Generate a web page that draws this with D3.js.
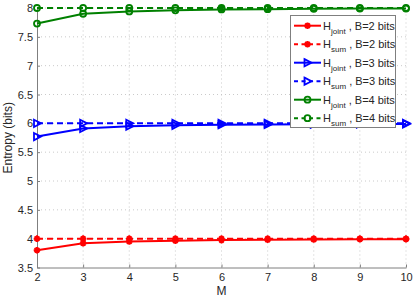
<!DOCTYPE html>
<html><head><meta charset="utf-8">
<script src="https://cdn.jsdelivr.net/npm/d3@7"></script>
<style>body{margin:0;background:#fff}svg{display:block}text{font-family:"Liberation Sans",Arial,sans-serif}</style>
</head><body><svg id="c" width="415" height="297"></svg>
<script>
const M = [2,3,4,5,6,7,8,9,10];
const jointB2 = [3.80,3.92,3.95,3.965,3.975,3.98,3.985,3.99,3.99];
const sumB2   = [4,4,4,4,4,4,4,4,4];
const jointB3 = [5.77,5.91,5.95,5.965,5.975,5.98,5.985,5.99,5.99];
const sumB3   = [6,6,6,6,6,6,6,6,6];
const jointB4 = [7.73,7.90,7.94,7.96,7.975,7.98,7.985,7.99,7.99];
const sumB4   = [8,8,8,8,8,8,8,8,8];
const xTicks = [2,3,4,5,6,7,8,9,10];
const yTicks = [3.5,4,4.5,5,5.5,6,6.5,7,7.5,8];
const labels = ["joint","sum","joint","sum","joint","sum"];
const bits = [2,2,3,3,4,4];

const series = [
  {v:jointB2,c:"#ff0000",dash:null,m:"star"},
  {v:sumB2,c:"#ff0000",dash:"6,4",m:"star"},
  {v:jointB3,c:"#0000ff",dash:null,m:"tri"},
  {v:sumB3,c:"#0000ff",dash:"6,4",m:"tri"},
  {v:jointB4,c:"#008000",dash:null,m:"circ"},
  {v:sumB4,c:"#008000",dash:"6,4",m:"circ"}
];

const svg = d3.select("#c");
const x = d3.scaleLinear().domain([2,10]).range([37,406]);
const y = d3.scaleLinear().domain([3.5,8]).range([267.5,8]);

// grid
const g = svg.append("g");
g.selectAll(".gx").data(xTicks.slice(1)).join("line")
  .attr("x1",d=>x(d)).attr("x2",d=>x(d)).attr("y1",y(3.5)).attr("y2",y(8))
  .attr("stroke","#bdbdbd").attr("stroke-width",0.8).attr("stroke-dasharray","1,3");
g.selectAll(".gy").data(yTicks.slice(1)).join("line")
  .attr("x1",x(2)).attr("x2",x(10)).attr("y1",d=>y(d)).attr("y2",d=>y(d))
  .attr("stroke","#bdbdbd").attr("stroke-width",0.8).attr("stroke-dasharray","1,3");

// axes
const xa = svg.append("g").attr("transform",`translate(0,${y(3.5)})`)
  .call(d3.axisBottom(x).tickValues(xTicks).tickFormat(d3.format("d")).tickSizeInner(-3).tickSizeOuter(0).tickPadding(6));
const ya = svg.append("g").attr("transform",`translate(${x(2)},0)`)
  .call(d3.axisLeft(y).tickValues(yTicks).tickFormat(d=>d).tickSizeInner(-3).tickSizeOuter(0).tickPadding(4));
[xa,ya].forEach(a=>{
  a.select(".domain").attr("stroke","#7f7f7f");
  a.selectAll(".tick line").attr("stroke","#7f7f7f");
  a.selectAll("text").attr("fill","#262626").style("font-size","11px").style("font-family","'Liberation Sans',Arial,sans-serif");
});

svg.append("text").attr("x",x(6)).attr("y",295).attr("text-anchor","middle")
  .attr("fill","#262626").style("font-size","12px").text("M");
svg.append("text").attr("transform",`translate(12,${y(5.75)}) rotate(-90)`).attr("text-anchor","middle")
  .attr("fill","#262626").style("font-size","12px").text("Entropy (bits)");

function marker(sel, type, c){
  if(type==="star"){
    const r=3.3;
    const p=[];
    for(let k=0;k<4;k++){const a=k*Math.PI/4;p.push(`M${-r*Math.cos(a)},${-r*Math.sin(a)}L${r*Math.cos(a)},${r*Math.sin(a)}`);}
    sel.append("path").attr("d",p.join("")).attr("stroke",c).attr("stroke-width",2).attr("fill","none");
    sel.append("circle").attr("r",1.8).attr("fill",c);
  } else if(type==="tri"){
    sel.append("path").attr("d","M-3,-3.6L4,0L-3,3.6Z").attr("stroke",c).attr("stroke-width",1.8).attr("fill","none");
  } else {
    sel.append("circle").attr("r",3).attr("stroke",c).attr("stroke-width",1.8).attr("fill","none");
  }
}

const line = d3.line().x((d,i)=>x(M[i])).y(d=>y(d));
series.forEach(s=>{
  svg.append("path").datum(s.v).attr("d",line).attr("fill","none")
    .attr("stroke",s.c).attr("stroke-width",2).attr("stroke-dasharray",s.dash);
});
series.forEach(s=>{
  s.v.forEach((v,i)=>{
    const gm = svg.append("g").attr("transform",`translate(${x(M[i])},${y(v)})`);
    marker(gm,s.m,s.c);
  });
});

// legend
const lg = svg.append("g");
lg.append("rect").attr("x",290.5).attr("y",15.5).attr("width",105).attr("height",112)
  .attr("fill","#fff").attr("stroke","#7f7f7f").attr("stroke-width",1);
series.forEach((s,i)=>{
  const yy = 25.7 + i*18.5;
  lg.append("line").attr("x1",294).attr("x2",321).attr("y1",yy).attr("y2",yy)
    .attr("stroke",s.c).attr("stroke-width",2).attr("stroke-dasharray",s.dash?"4,3.5":null);
  const gm = lg.append("g").attr("transform",`translate(307.5,${yy})`);
  marker(gm,s.m,s.c);
  const t = lg.append("text").attr("x",323).attr("y",yy+4).attr("fill","#262626").style("font-size","11px");
  t.append("tspan").text("H");
  t.append("tspan").attr("dy",4).style("font-size","8px").text(labels[i]);
  t.append("tspan").attr("dy",-4).text(` , B=${bits[i]} bits`);
});
</script></body></html>
